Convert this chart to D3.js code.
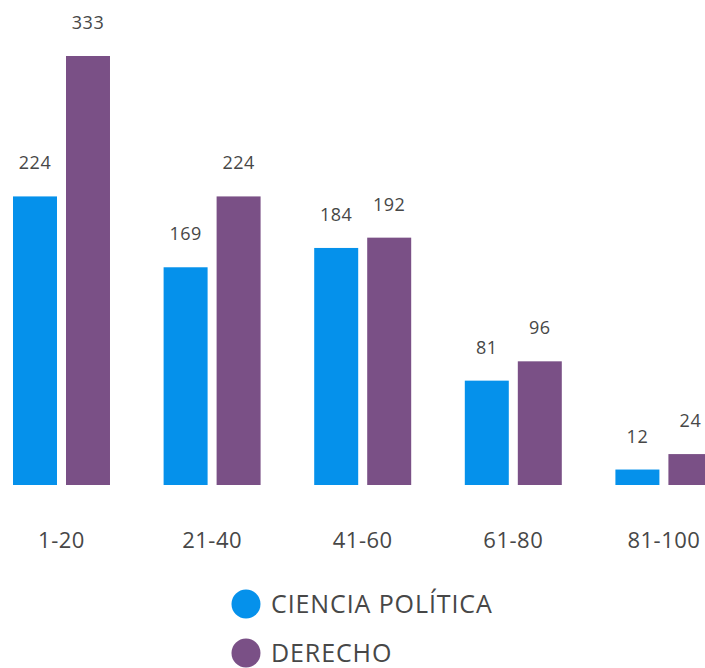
<!DOCTYPE html>
<html>
<head>
<meta charset="utf-8">
<script src="https://d3js.org/d3.v7.min.js"></script>
<style>
body {margin: 0; background: #fff;}
svg text {font-family: "Open Sans", "Noto Sans", sans-serif; fill: #474747;}
.value {font-size: 18px; text-anchor: middle; letter-spacing: 0.5px;}
.cat {font-size: 22px; text-anchor: middle; letter-spacing: 0.5px;}
.legend text {font-size: 25px; letter-spacing: 0.9px;}
</style>
</head>
<body>
<svg width="705" height="668"></svg>
<script>
var categories = ["1-20", "21-40", "41-60", "61-80", "81-100"];
var seriesNames = ["CIENCIA POLÍTICA", "DERECHO"];
var cienciaPolitica = [224, 169, 184, 81, 12];
var derecho = [333, 224, 192, 96, 24];
var colors = ["#0591eb", "#7a5086"];

var svg = d3.select("svg");
var baseline = 485;

var x0 = d3.scaleBand()
    .domain(categories)
    .range([13, 712.4])
    .paddingInner(0.356)
    .paddingOuter(0);

var x1 = d3.scaleBand()
    .domain(seriesNames)
    .range([0, x0.bandwidth()])
    .paddingInner(0.17);

var y = d3.scaleLinear()
    .domain([0, 333])
    .range([baseline, 56]);

var color = d3.scaleOrdinal().domain(seriesNames).range(colors);

var rows = categories.map(function(c, i) {
    return {cat: c, values: [
        {name: seriesNames[0], v: cienciaPolitica[i]},
        {name: seriesNames[1], v: derecho[i]}
    ]};
});

var groups = svg.selectAll(".group")
    .data(rows)
    .enter().append("g")
    .attr("class", "group")
    .attr("transform", function(d) { return "translate(" + x0(d.cat) + ",0)"; });

groups.selectAll("rect")
    .data(function(d) { return d.values; })
    .enter().append("rect")
    .attr("x", function(d) { return x1(d.name); })
    .attr("width", x1.bandwidth())
    .attr("y", function(d) { return y(d.v); })
    .attr("height", function(d) { return baseline - y(d.v); })
    .attr("fill", function(d) { return color(d.name); });

groups.selectAll(".value")
    .data(function(d) { return d.values; })
    .enter().append("text")
    .attr("class", "value")
    .attr("x", function(d) { return x1(d.name) + x1.bandwidth() / 2; })
    .attr("y", function(d) { return y(d.v) - 27; })
    .text(function(d) { return d.v; });

// category labels
svg.selectAll(".cat")
    .data(categories)
    .enter().append("text")
    .attr("class", "cat")
    .attr("x", function(d) { return x0(d) + x0.bandwidth() / 2; })
    .attr("y", 548)
    .text(function(d) { return d; });

// legend
var legend = svg.append("g").attr("class", "legend")
    .selectAll("g")
    .data(seriesNames)
    .enter().append("g")
    .attr("transform", function(d, i) { return "translate(246," + (604 + i * 49) + ")"; });

legend.append("circle")
    .attr("r", 14.5)
    .attr("fill", function(d) { return color(d); });

legend.append("text")
    .attr("x", 25)
    .attr("y", 9)
    .text(function(d) { return d; });
</script>
</body>
</html>
